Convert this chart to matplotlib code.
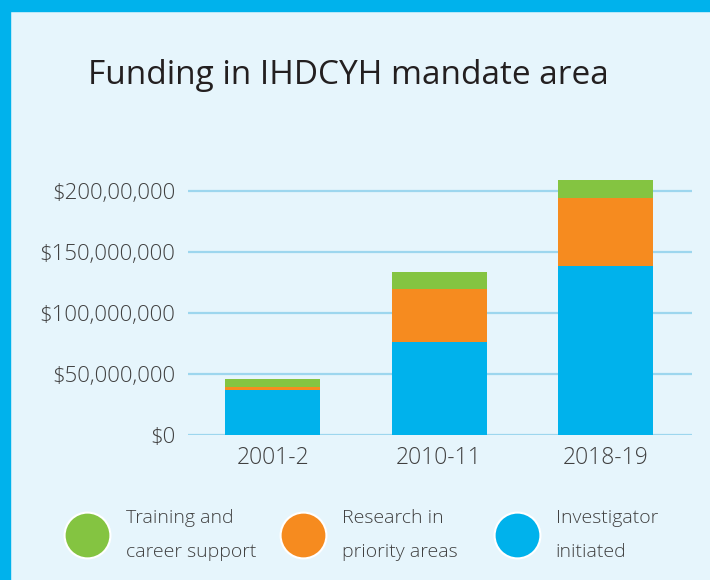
import matplotlib
matplotlib.use("Agg")
import matplotlib.pyplot as plt
from matplotlib.patches import Rectangle
from matplotlib.lines import Line2D

# data (dollars)
years = ["2001-2", "2010-11", "2018-19"]
investigator = [36.8e6, 76.2e6, 138.4e6]
priority = [2.4e6, 43.9e6, 56.1e6]
training = [6.7e6, 13.3e6, 14.7e6]

tick_vals = [0, 50e6, 100e6, 150e6, 200e6]
tick_labels = ["$0", "$50,000,000", "$100,000,000", "$150,000,000", "$200,00,000"]

legend_labels = ["Training and\ncareer support", "Research in\npriority areas", "Investigator\ninitiated"]

blue = "#00b2ec"
orange = "#f68b1f"
green = "#84c441"
bg = "#e6f5fc"
grid_col = "#9dd6ee"
txt = "#404040"

plt.rcParams['font.family'] = ['Open Sans', 'DejaVu Sans']
plt.rcParams['font.weight'] = 'light'

fig = plt.figure(figsize=(7.1, 5.8), dpi=100)
fig.patch.set_facecolor(bg)

# cyan frame on top and left
fig.patches.append(Rectangle((0, 1 - 11 / 580), 1, 11 / 580, transform=fig.transFigure,
                             color=blue, zorder=0))
fig.patches.append(Rectangle((0, 0), 10 / 710, 1, transform=fig.transFigure,
                             color=blue, zorder=0))

ax = fig.add_axes([188 / 710, (580 - 434.7) / 580, 504 / 710, 261.6 / 580])
ax.set_facecolor(bg)

x = range(len(years))
w = 0.57
ax.bar(x, investigator, width=w, color=blue, zorder=3)
bottom2 = investigator
ax.bar(x, priority, width=w, bottom=bottom2, color=orange, zorder=3)
bottom3 = [a + b for a, b in zip(investigator, priority)]
ax.bar(x, training, width=w, bottom=bottom3, color=green, zorder=3)

ax.set_xlim(-0.51, 2.52)
ax.set_ylim(0, 215e6)
ax.set_yticks(tick_vals)
ax.set_yticklabels(tick_labels)
ax.set_xticks(list(x))
ax.set_xticklabels(years)
ax.yaxis.grid(True, color=grid_col, linewidth=1.6, zorder=1)
ax.set_axisbelow(True)
for s in ax.spines.values():
    s.set_visible(False)
ax.tick_params(axis="both", length=0, colors=txt)
ax.tick_params(axis="y", pad=9, labelsize=16)
ax.tick_params(axis="x", pad=8, labelsize=16.5)

fig.text(88 / 710, 1 - 75 / 580, "Funding in IHDCYH mandate area", fontsize=24,
         fontweight="normal", color="#231f20", va="center", ha="left")

# one legend per item so each can sit where the reference has it
anchors_x = [46, 262, 476]
for c, lab, ax_x in zip([green, orange, blue], legend_labels, anchors_x):
    h = Line2D([], [], linestyle="none", marker="o", markersize=33,
               markerfacecolor=c, markeredgecolor="white", markeredgewidth=1.5)
    leg = fig.legend([h], [lab], frameon=False, fontsize=14,
                     loc="center left", bbox_to_anchor=(ax_x / 710, 1 - 535 / 580),
                     handlelength=2.4, handletextpad=0.8)
    for t in leg.get_texts():
        t.set_color(txt)
        t.set_linespacing(2.2)

fig.savefig("out.png", dpi=100, facecolor=bg)
